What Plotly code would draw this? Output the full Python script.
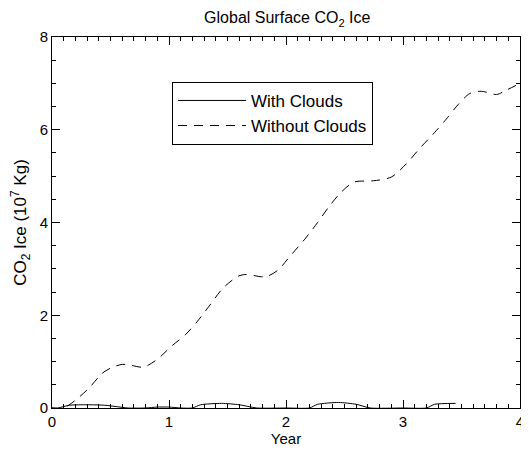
import plotly.graph_objects as go

# Data
x_with = [0, 0.05, 0.15, 0.3, 0.45, 0.55, 0.65, 0.8, 0.9, 1.0, 1.1, 1.2, 1.27, 1.45, 1.6, 1.75,
          2.0, 2.2, 2.27, 2.45, 2.6, 2.72, 3.0, 3.2, 3.27, 3.45]
y_with = [0, 0.0, 0.06, 0.07, 0.06, 0.03, 0.0, 0.0, 0.02, 0.02, 0.0, 0.0, 0.07, 0.1, 0.07, 0.0,
          0.0, 0.0, 0.08, 0.12, 0.08, 0.0, 0.0, 0.0, 0.08, 0.1]

x_without = [0, 0.1, 0.22, 0.32, 0.43, 0.51, 0.6, 0.66, 0.78, 0.9, 1.02, 1.14, 1.24, 1.35, 1.46,
             1.59, 1.66, 1.79, 1.84, 1.93, 2.04, 2.16, 2.27, 2.37, 2.47, 2.58, 2.75, 2.9, 3.03,
             3.14, 3.27, 3.37, 3.46, 3.57, 3.67, 3.8, 3.88, 4.0]
y_without = [0, 0.0, 0.21, 0.44, 0.75, 0.87, 0.94, 0.93, 0.88, 1.05, 1.33, 1.58, 1.86, 2.22, 2.58,
             2.84, 2.88, 2.83, 2.84, 2.97, 3.29, 3.64, 4.0, 4.35, 4.65, 4.87, 4.9, 4.98, 5.27,
             5.59, 5.94, 6.23, 6.51, 6.78, 6.83, 6.76, 6.85, 7.0]

x_ticks = [0, 1, 2, 3, 4]
y_ticks = [0, 2, 4, 6, 8]

FONT = "Liberation Sans, Arial, Helvetica, sans-serif"

fig = go.Figure()
fig.add_trace(go.Scatter(x=x_with, y=y_with, mode="lines", name="With Clouds",
                         line=dict(color="black", width=1, shape="spline", smoothing=0.6)))
fig.add_trace(go.Scatter(x=x_without, y=y_without, mode="lines", name="Without Clouds",
                         line=dict(color="black", width=1, dash="9px,7px", shape="spline", smoothing=0.8)))

axis_common = dict(showline=True, linecolor="black", linewidth=1, mirror="ticks",
                   ticks="inside", ticklen=8, tickwidth=1, tickcolor="black",
                   showgrid=False, zeroline=False, automargin=False,
                   ticklabeloverflow="allow",
                   tickfont=dict(family=FONT, size=15, color="black"))

fig.update_xaxes(range=[0, 4], tickvals=x_ticks, ticktext=[str(v) for v in x_ticks],
                 minor=dict(dtick=0.1, ticks="inside", ticklen=4, tickcolor="black", showgrid=False),
                 title=dict(text="Year", font=dict(family=FONT, size=15, color="black"), standoff=0),
                 **axis_common)
fig.update_yaxes(range=[0, 8], tickvals=y_ticks, ticktext=[str(v) for v in y_ticks],
                 minor=dict(dtick=0.5, ticks="inside", ticklen=4, tickcolor="black", showgrid=False),
                 title=dict(text="CO<sub>2</sub> Ice (10<sup>7</sup> Kg)",
                            font=dict(family=FONT, size=17, color="black"), standoff=9),
                 **axis_common)

# The page body adds an 8px offset, so the figure is sized 521x442.
fig.update_layout(
    width=521, height=442,
    margin=dict(l=44, r=9, t=29, b=42),
    paper_bgcolor="white", plot_bgcolor="white",
    title=dict(text="Global Surface CO<sub>2</sub> Ice", x=0.536, xanchor="center",
               y=0.978, yanchor="middle",
               font=dict(family=FONT, size=16, color="black")),
    showlegend=True,
    legend=dict(x=0.2565, y=0.879, xanchor="left", yanchor="top",
                bgcolor="white", bordercolor="black", borderwidth=1,
                font=dict(family=FONT, size=17, color="black"),
                itemwidth=68, tracegroupgap=0),
    font=dict(family=FONT, color="black"),
)

fig.write_html("out.html")
